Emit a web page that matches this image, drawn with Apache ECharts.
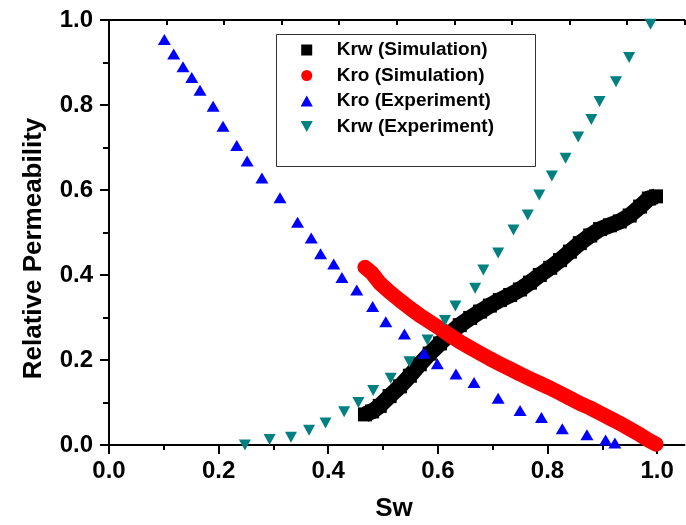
<!DOCTYPE html>
<html>
<head>
<meta charset="utf-8">
<script src="https://cdn.jsdelivr.net/npm/echarts@6/dist/echarts.min.js"></script>
<style>
html,body{margin:0;padding:0;background:#fff;}
#chart{width:686px;height:525px;}
</style>
</head>
<body>
<div id="chart"></div>
<script>
// ---- data ----
const seriesNames = ['Krw (Simulation)', 'Kro (Simulation)', 'Kro (Experiment)', 'Krw (Experiment)'];

const krwSimSw  = [0.467,0.480,0.494,0.512,0.531,0.549,0.567,0.585,0.604,0.622,0.640,0.659,0.677,0.695,0.713,0.732,0.750,0.768,0.786,0.805,0.823,0.841,0.859,0.878,0.896,0.914,0.932,0.950,0.969,0.985,0.998];
const krwSimVal = [0.072,0.079,0.092,0.115,0.138,0.163,0.190,0.215,0.239,0.262,0.282,0.299,0.314,0.328,0.341,0.353,0.366,0.382,0.400,0.417,0.435,0.455,0.475,0.493,0.508,0.517,0.526,0.540,0.561,0.580,0.585];

const kroSimSw  = [0.467,0.480,0.494,0.512,0.531,0.549,0.567,0.585,0.604,0.622,0.640,0.659,0.677,0.695,0.713,0.732,0.750,0.768,0.786,0.805,0.823,0.841,0.859,0.878,0.896,0.914,0.932,0.950,0.969,0.985,0.998];
const kroSimVal = [0.418,0.404,0.381,0.360,0.340,0.322,0.305,0.290,0.274,0.258,0.243,0.229,0.216,0.203,0.191,0.179,0.167,0.156,0.145,0.134,0.122,0.110,0.098,0.087,0.075,0.063,0.051,0.038,0.024,0.011,0.002];

const kroExpSw  = [0.101,0.118,0.135,0.151,0.166,0.190,0.208,0.233,0.252,0.279,0.312,0.344,0.369,0.386,0.410,0.425,0.452,0.481,0.505,0.539,0.575,0.599,0.633,0.666,0.710,0.750,0.789,0.827,0.872,0.906,0.923];
const kroExpVal = [0.954,0.920,0.890,0.865,0.835,0.797,0.750,0.705,0.668,0.628,0.582,0.524,0.487,0.450,0.426,0.394,0.365,0.326,0.290,0.261,0.216,0.191,0.167,0.147,0.110,0.081,0.065,0.038,0.024,0.012,0.005];

const krwExpSw  = [0.248,0.293,0.332,0.365,0.395,0.429,0.455,0.482,0.514,0.548,0.581,0.613,0.632,0.668,0.683,0.710,0.738,0.764,0.785,0.808,0.833,0.856,0.880,0.895,0.925,0.949,0.988];
const krwExpVal = [0.000,0.013,0.018,0.035,0.052,0.078,0.100,0.128,0.157,0.196,0.247,0.293,0.327,0.369,0.412,0.452,0.506,0.541,0.588,0.633,0.675,0.725,0.766,0.808,0.855,0.912,0.990];

const xMajorTicks = [0, 0.2, 0.4, 0.6, 0.8, 1.0];
const xMinorTicks = [0.1, 0.3, 0.5, 0.7, 0.9];

const xTitle = 'Sw';
const yTitle = 'Relative Permeability';

// ---- chart ----
const FONT = '"Liberation Sans", Arial, Helvetica, sans-serif';
const pairs = (xs, ys) => xs.map((x, i) => [x, ys[i]]);

const chart = echarts.init(document.getElementById('chart'), null, {renderer: 'canvas'});

const axisLine = {show: true, lineStyle: {color: '#000', width: 2}};

const option = {
  animation: false,
  backgroundColor: '#fff',
  grid: {left: 109, right: 1.5, top: 20, bottom: 80, containLabel: false},
  xAxis: [
    {
      type: 'value', position: 'bottom', min: 0, max: 1.05,
      axisLine: axisLine,
      axisTick: {show: true, inside: false, length: 9, customValues: xMajorTicks, lineStyle: {color: '#000', width: 2}},
      axisLabel: {show: true, customValues: xMajorTicks, margin: 14, color: '#000', fontSize: 24, fontWeight: 'bold', fontFamily: FONT,
                  formatter: v => Number(v).toFixed(1)},
      splitLine: {show: false}
    },
    {
      type: 'value', position: 'bottom', min: 0, max: 1.05, offset: 0,
      axisLine: {show: false},
      axisTick: {show: true, inside: false, length: 5, customValues: xMinorTicks, lineStyle: {color: '#000', width: 2}},
      axisLabel: {show: false},
      splitLine: {show: false}
    },
    {
      type: 'value', position: 'top', min: 0, max: 1, interval: 0.1,
      axisLine: axisLine,
      axisTick: {show: true, inside: true, length: 5, lineStyle: {color: '#000', width: 2}},
      axisLabel: {show: false},
      splitLine: {show: false}
    }
  ],
  yAxis: [
    {
      type: 'value', position: 'left', min: 0, max: 1, interval: 0.2,
      axisLine: axisLine,
      axisTick: {show: true, inside: false, length: 9, lineStyle: {color: '#000', width: 2}},
      minorTick: {show: true, splitNumber: 2, length: 5, lineStyle: {color: '#000', width: 2}},
      axisLabel: {show: true, margin: 16, color: '#000', fontSize: 24, fontWeight: 'bold', fontFamily: FONT,
                  formatter: v => Number(v).toFixed(1)},
      splitLine: {show: false}, minorSplitLine: {show: false}
    },
    {
      type: 'value', position: 'right', min: 0, max: 1, interval: 0.1,
      axisLine: axisLine,
      axisTick: {show: true, inside: true, length: 6, lineStyle: {color: '#000', width: 2}},
      axisLabel: {show: false},
      splitLine: {show: false}
    }
  ],
  legend: {
    orient: 'vertical', left: 300.6, top: 40, padding: 0,
    itemWidth: 50, itemHeight: 11, itemGap: 5.5,
    selectedMode: false,
    textStyle: {color: '#000', fontSize: 19, fontWeight: 'bold', fontFamily: FONT, lineHeight: 20},
    data: [
      {name: seriesNames[0], icon: 'path://M0,0H10V10H0Z'},
      {name: seriesNames[1], icon: 'circle'},
      {name: seriesNames[2], icon: 'path://M5,0L10,9L0,9Z'},
      {name: seriesNames[3], icon: 'path://M0,0L10,0L5,9Z'}
    ]
  },
  graphic: [
    {type: 'rect', shape: {x: 276.5, y: 34.5, width: 259, height: 132}, style: {fill: 'none', stroke: '#333', lineWidth: 1}, z: 10},
    {type: 'text', x: 34, y: 248.5, rotation: Math.PI / 2,
     style: {text: yTitle, fill: '#000', font: 'bold 26px ' + FONT, align: 'center', verticalAlign: 'middle'}},
    {type: 'text', x: 394, y: 509,
     style: {text: xTitle, fill: '#000', font: 'bold 26px ' + FONT, align: 'center', verticalAlign: 'middle'}}
  ],
  series: [
    {
      name: seriesNames[0], type: 'line', xAxisIndex: 0, yAxisIndex: 0,
      data: pairs(krwSimSw, krwSimVal),
      symbol: 'rect', symbolSize: 14, showAllSymbol: true,
      itemStyle: {color: '#000'},
      lineStyle: {color: '#000', width: 16, cap: 'butt', join: 'round'},
      emphasis: {disabled: true}, z: 2
    },
    {
      name: seriesNames[1], type: 'line', xAxisIndex: 0, yAxisIndex: 0,
      data: pairs(kroSimSw, kroSimVal),
      symbol: 'circle', symbolSize: 14, showAllSymbol: true,
      itemStyle: {color: '#ff0000'},
      lineStyle: {color: '#ff0000', width: 15, cap: 'round', join: 'round'},
      emphasis: {disabled: true}, z: 3
    },
    {
      name: seriesNames[2], type: 'scatter', xAxisIndex: 0, yAxisIndex: 0,
      data: pairs(kroExpSw, kroExpVal),
      symbol: 'triangle', symbolSize: [13, 11],
      itemStyle: {color: '#0000ff', opacity: 1},
      emphasis: {disabled: true}, z: 4
    },
    {
      name: seriesNames[3], type: 'scatter', xAxisIndex: 0, yAxisIndex: 0,
      data: pairs(krwExpSw, krwExpVal),
      symbol: 'path://M0,0L10,0L5,9Z', symbolSize: [12, 11],
      itemStyle: {color: '#008080', opacity: 1},
      emphasis: {disabled: true}, z: 5
    }
  ]
};

chart.setOption(option);
</script>
</body>
</html>
